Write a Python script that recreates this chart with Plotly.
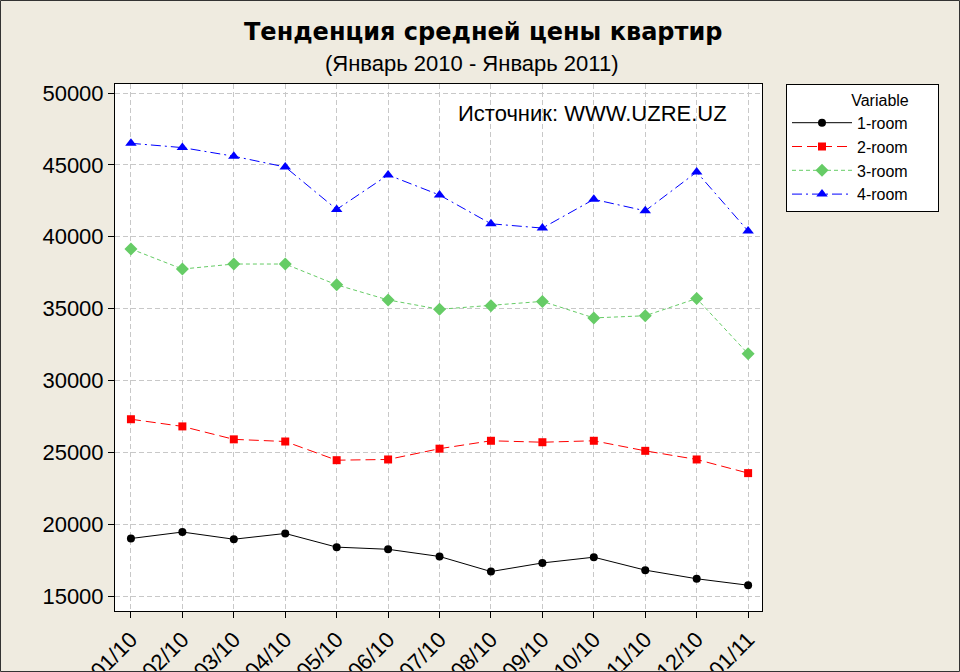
import plotly.graph_objects as go

# months Jan 2010 .. Jan 2011
months = ["01/10", "02/10", "03/10", "04/10", "05/10", "06/10", "07/10",
          "08/10", "09/10", "10/10", "11/10", "12/10", "01/11"]

room1 = [19000, 19450, 18950, 19350, 18400, 18250, 17750, 16700, 17300, 17700, 16800, 16200, 15750]
room2 = [27300, 26800, 25900, 25750, 24450, 24500, 25250, 25800, 25700, 25800, 25100, 24500, 23550]
room3 = [39150, 37750, 38100, 38100, 36650, 35600, 34950, 35200, 35500, 34350, 34500, 35700, 31850]
room4 = [46500, 46200, 45600, 44850, 41900, 44300, 42900, 40900, 40600, 42600, 41800, 44500, 40400]

y_ticks = [15000, 20000, 25000, 30000, 35000, 40000, 45000, 50000]

FONT = "Liberation Sans"
BG = "#EFEBE0"

# plot area in pixels (from the reference)
L, R, T, B = 115, 762, 84, 611
W, H = 960, 672


def px_x(x):
    return (x - L) / (R - L)


def px_y(y):
    return (B - y) / (B - T)


idx = list(range(len(months)))

series = [
    ("1-room", room1, "black", "solid", "circle", 8),
    ("2-room", room2, "#FF0000", "10px,5px", "square", 8),
    ("3-room", room3, "#66CC66", "4px,3px", "diamond", 10),
    ("4-room", room4, "#0000FF", "10px,4px,2px,4px", "triangle-up", 10),
]

fig = go.Figure()
for name, vals, col, dash, sym, sz in series:
    fig.add_trace(go.Scatter(
        x=idx, y=vals, name=name, mode="lines+markers",
        line=dict(color=col, width=1, dash=dash),
        marker=dict(color=col, symbol=sym, size=sz),
    ))

fig.update_layout(
    width=W, height=H,
    paper_bgcolor=BG, plot_bgcolor="white",
    margin=dict(l=L, r=W - R, t=T, b=H - B, autoexpand=False),
    font=dict(family=FONT, color="black", size=22),
    showlegend=True,
    legend=dict(
        x=px_x(786), xanchor="left", y=1, yanchor="top",
        bgcolor="white", bordercolor="black", borderwidth=1,
        font=dict(size=16, family=FONT),
        title=dict(text="              Variable      ", font=dict(size=16, family=FONT)),
        tracegroupgap=0, itemwidth=60,
    ),
)

fig.update_xaxes(
    range=[-0.31, 12.27], tickmode="array", tickvals=idx, ticktext=months,
    tickangle=-45, ticks="outside", ticklen=6, tickcolor="black",
    showgrid=True, gridcolor="#C8C8C8", griddash="5px,3px", gridwidth=1,
    showline=True, linecolor="black", linewidth=1, mirror=True,
    zeroline=False, automargin=False, tickfont=dict(size=22, family=FONT),
)
fig.update_yaxes(
    range=[13956, 50626], tickmode="array", tickvals=y_ticks,
    ticktext=[str(v) for v in y_ticks],
    ticks="outside", ticklen=6, tickcolor="black",
    showgrid=True, gridcolor="#C8C8C8", griddash="5px,3px", gridwidth=1,
    showline=True, linecolor="black", linewidth=1, mirror=True,
    zeroline=False, automargin=False, tickfont=dict(size=22, family=FONT),
)

fig.add_annotation(
    text="<b>Тенденция средней цены квартир</b>", showarrow=False,
    xref="paper", yref="paper", x=px_x(483), y=px_y(32),
    xanchor="center", yanchor="middle", font=dict(size=24, family="DejaVu Sans"),
)
fig.add_annotation(
    text="(Январь 2010 - Январь 2011)", showarrow=False,
    xref="paper", yref="paper", x=px_x(472), y=px_y(63),
    xanchor="center", yanchor="middle", font=dict(size=22, family=FONT),
)
fig.add_annotation(
    text="Источник: WWW.UZRE.UZ", showarrow=False,
    xref="paper", yref="paper", x=px_x(729), y=px_y(113),
    xanchor="right", yanchor="middle", font=dict(size=22, family=FONT),
)

# thin frame around the whole picture
fig.add_shape(type="rect", xref="paper", yref="paper",
              x0=px_x(0.5), y0=px_y(H - 0.5), x1=px_x(W - 0.5), y1=px_y(0.5),
              line=dict(color="#333333", width=1))

# page body has an 8px default margin; drop it so the figure sits at 0,0
fig.write_html("out.html", config={"displayModeBar": False},
               post_script="document.body.style.margin='0';")
